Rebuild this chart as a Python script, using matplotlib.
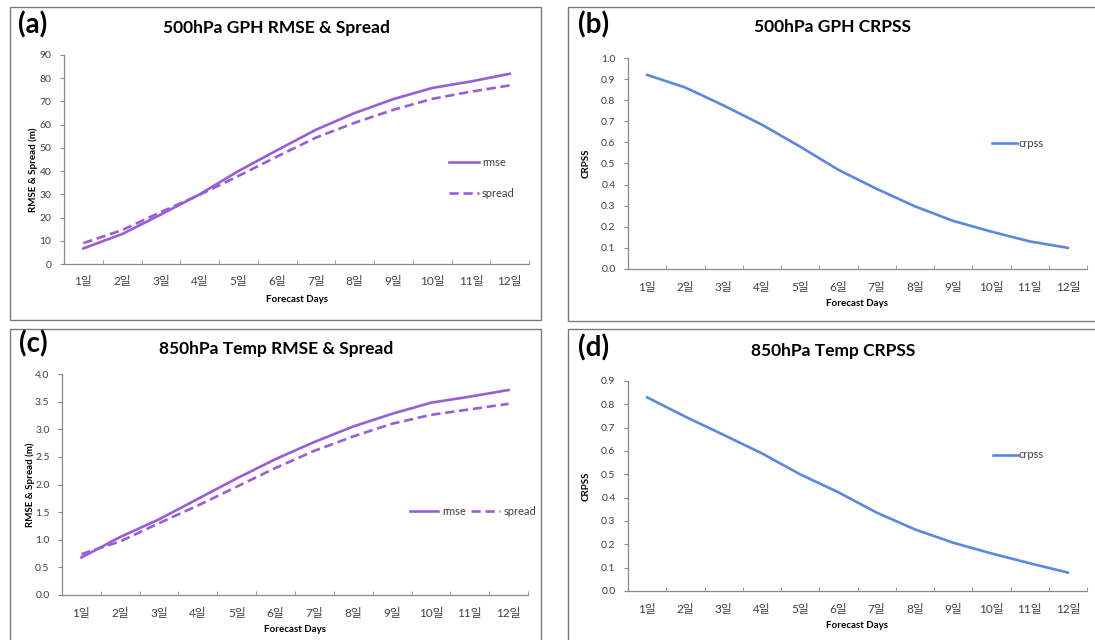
import numpy as np
import matplotlib
matplotlib.use("Agg")
import matplotlib.pyplot as plt
from matplotlib.patches import Rectangle
from matplotlib.ticker import FormatStrFormatter, MultipleLocator

plt.rcParams['font.family'] = ['Lato', 'Noto Sans CJK KR', 'DejaVu Sans']

days = ['1일', '2일', '3일', '4일', '5일', '6일', '7일', '8일', '9일', '10일', '11일', '12일']

gph_rmse = [6.7, 12.9, 21.3, 30.0, 40.0, 49.0, 57.8, 65.0, 71.0, 75.8, 78.6, 81.9]
gph_spread = [9.0, 14.6, 22.4, 29.8, 37.9, 46.3, 54.4, 60.8, 66.4, 71.1, 74.2, 76.9]
gph_crpss = [0.92, 0.86, 0.775, 0.684, 0.58, 0.47, 0.38, 0.297, 0.228, 0.177, 0.131, 0.10]

temp_rmse = [0.68, 1.05, 1.37, 1.74, 2.11, 2.46, 2.77, 3.05, 3.28, 3.48, 3.59, 3.71]
temp_spread = [0.74, 0.97, 1.30, 1.62, 1.96, 2.30, 2.61, 2.87, 3.10, 3.26, 3.36, 3.46]
temp_crpss = [0.83, 0.747, 0.669, 0.59, 0.50, 0.423, 0.336, 0.264, 0.207, 0.161, 0.119, 0.079]

purple = '#9A5DD8'
blue = '#5A88DE'
grey = '#8A8A8A'
W, H = 1095, 640


def px(x0, y0, x1, y1):
	# pixel box (top-left origin) -> figure fraction [l, b, w, h]
	return [x0 / W, 1 - y1 / H, (x1 - x0) / W, (y1 - y0) / H]


def style_axis(ax, ymax, ystep, fmt, ylabel):
	x = np.arange(len(days))
	ax.set_xlim(-0.5, len(days) - 0.5)
	ax.set_ylim(0, ymax)
	ax.yaxis.set_major_locator(MultipleLocator(ystep))
	ax.yaxis.set_major_formatter(FormatStrFormatter(fmt))
	ax.set_xticks(x)
	ax.set_xticklabels(days)
	ax.set_xticks(np.arange(-0.5, len(days)), minor=True)
	ax.tick_params(axis='x', which='major', length=0, pad=9, labelsize=8.5, labelcolor='#404040')
	ax.tick_params(axis='x', which='minor', direction='in', length=3, color=grey)
	ax.tick_params(axis='y', length=3, color=grey, labelsize=7.5, labelcolor='#404040', pad=6)
	for s in ['top', 'right']:
		ax.spines[s].set_visible(False)
	for s in ['left', 'bottom']:
		ax.spines[s].set_color(grey)
		ax.spines[s].set_linewidth(0.9)
	ax.set_ylabel(ylabel, fontsize=7, fontweight='bold')


fig = plt.figure(figsize=(W / 100, H / 100), dpi=100)

for box in [(10, 7, 541, 320), (568, 7, 1100, 321), (10, 329, 541, 645), (568, 329, 1100, 645)]:
	l, b, w, h = px(*box)
	fig.patches.append(Rectangle((l, b), w, h, transform=fig.transFigure,
		fill=False, edgecolor='#7a7a7a', linewidth=1.0))

x = np.arange(len(days))

# (a)
ax = fig.add_axes(px(64, 55, 529, 264))
ax.plot(x, gph_rmse, color=purple, lw=1.9, label='rmse')
ax.plot(x, gph_spread, color=purple, lw=1.9, dashes=(3.5, 1.8), label='spread')
style_axis(ax, 90, 10, '%d', 'RMSE & Spread (m)')
ax.yaxis.set_label_coords(-0.056, 0.45)
ax.text(0.5, -0.172, 'Forecast Days', transform=ax.transAxes, ha='center', va='center', fontsize=7, fontweight='bold')
ax.legend(loc='center left', bbox_to_anchor=(0.815, 0.41), frameon=False, fontsize=8,
	handlelength=2.7, handletextpad=0.3, labelspacing=1.8, borderpad=0, labelcolor='#404040')

# (b)
ax = fig.add_axes(px(628, 58, 1087, 269))
ax.plot(x, gph_crpss, color=blue, lw=1.9, label='crpss')
style_axis(ax, 1.0, 0.1, '%.1f', 'CRPSS')
ax.yaxis.set_label_coords(-0.081, 0.5)
ax.text(0.5, -0.163, 'Forecast Days', transform=ax.transAxes, ha='center', va='center', fontsize=7, fontweight='bold')
ax.legend(loc='center left', bbox_to_anchor=(0.782, 0.597), frameon=False, fontsize=8,
	handlelength=2.2, handletextpad=0.1, borderpad=0, labelcolor='#404040')

# (c)
ax = fig.add_axes(px(62, 374, 528, 595))
ax.plot(x, temp_rmse, color=purple, lw=1.9, label='rmse')
ax.plot(x, temp_spread, color=purple, lw=1.9, dashes=(3.5, 1.8), label='spread')
style_axis(ax, 4.0, 0.5, '%.1f', 'RMSE & Spread (m)')
ax.yaxis.set_label_coords(-0.058, 0.5)
ax.text(0.5, -0.154, 'Forecast Days', transform=ax.transAxes, ha='center', va='center', fontsize=7, fontweight='bold')
ax.legend(loc='center left', bbox_to_anchor=(0.734, 0.38), frameon=False, fontsize=8, ncol=2,
	handlelength=2.6, handletextpad=0.3, columnspacing=0.5, borderpad=0, labelcolor='#404040')

# (d)
ax = fig.add_axes(px(628, 381, 1087, 591))
ax.plot(x, temp_crpss, color=blue, lw=1.9, label='crpss')
style_axis(ax, 0.9, 0.1, '%.1f', 'CRPSS')
ax.yaxis.set_label_coords(-0.081, 0.5)
ax.text(0.5, -0.162, 'Forecast Days', transform=ax.transAxes, ha='center', va='center', fontsize=7, fontweight='bold')
ax.legend(loc='center left', bbox_to_anchor=(0.784, 0.648), frameon=False, fontsize=8,
	handlelength=2.2, handletextpad=0.1, borderpad=0, labelcolor='#404040')

titles = [
	('(a)', 33, 25, '500hPa GPH RMSE & Spread', 276, 28),
	('(b)', 594, 25, '500hPa GPH CRPSS', 833, 27),
	('(c)', 33, 344, '850hPa Temp RMSE & Spread', 276, 349),
	('(d)', 594, 348, '850hPa Temp CRPSS', 833, 351),
]
for lab, lx, ly, title, tx, ty in titles:
	fig.text(lx / W, 1 - ly / H, lab, ha='center', va='center', fontsize=20, fontweight='bold')
	fig.text(tx / W, 1 - ty / H, title, ha='center', va='center', fontsize=12.5, fontweight='bold')

fig.savefig('out.png', dpi=100)
